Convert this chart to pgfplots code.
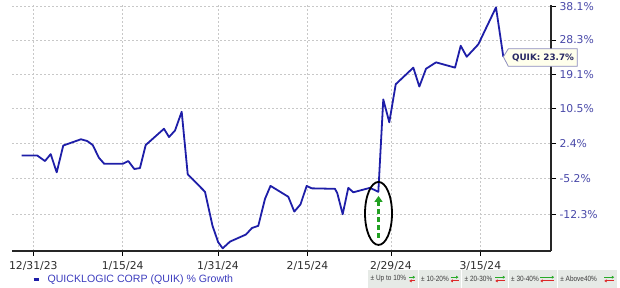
\documentclass[border=0pt]{standalone}
\usepackage{pgfplots}
\pgfplotsset{compat=1.18}
\usepackage{fontspec}
\setmainfont{DejaVu Sans}
\newfontfamily\lib{Liberation Sans}
\newfontfamily\libn[FakeStretch=0.85]{Liberation Sans}
\usetikzlibrary{arrows.meta}
\definecolor{lineblue}{RGB}{30,30,168}
\definecolor{ticklbl}{RGB}{72,72,168}
\definecolor{legendblue}{RGB}{60,60,190}
\definecolor{datecol}{RGB}{45,45,45}
\definecolor{gridgray}{RGB}{200,200,200}
\definecolor{boxfill}{RGB}{255,255,236}
\definecolor{boxdraw}{RGB}{140,140,190}
\definecolor{boxtext}{RGB}{40,40,100}
\definecolor{arrowgreen}{RGB}{34,160,34}
\definecolor{legbg}{RGB}{230,234,230}
\definecolor{leggray}{RGB}{60,60,60}
\definecolor{iconred}{RGB}{220,40,40}
\definecolor{icongreen}{RGB}{40,170,40}
\begin{document}
\begin{tikzpicture}
\begin{axis}[
  scale only axis, width=539pt, height=246pt,
  at={(0pt,0pt)}, anchor=south west,
  xmin=-3.57, xmax=86.86,
  ymode=log, ymin=80.93, ymax=138.53,
  axis x line*=bottom, axis y line*=right,
  axis line style={line width=1.6pt, color=black!85},
  xtick={0,15,31,46,60,75},
  xticklabels={12/31/23,1/15/24,1/31/24,2/15/24,2/29/24,3/15/24},
  ytick={87.7,94.8,102.4,110.5,119.1,128.3,138.1},
  yticklabels={-12.3\%,-5.2\%,2.4\%,10.5\%,19.1\%,28.3\%,38.1\%},
  yminorticks=false, xminorticks=false,
  tick align=outside, major tick length=5pt,
  tick style={black, line width=0.8pt},
  grid=major,
  major grid style={gridgray, dash pattern=on 2pt off 2pt, line width=0.5pt},
  x tick label style={font=\fontsize{10.8}{12}\selectfont, text=datecol, yshift=-2pt},
  y tick label style={font=\fontsize{10.8}{12}\selectfont, text=ticklbl},
  clip mode=individual,
  legend style={at={(rel axis cs:0.0371,-0.115)}, anchor=west, draw=none, fill=none,
    inner sep=0pt, nodes={inner sep=0pt},
    font=\lib\fontsize{10.6}{12}\selectfont, text=legendblue},
  legend image code/.code={\draw[#1, line width=3pt, line cap=butt] (0pt,0pt) -- (5pt,0pt); \path (0pt,-2pt) (13pt,2pt);},
]
\addplot[lineblue, line width=1.8pt, line join=round] coordinates {
(-1.95,99.7) (0.67,99.7) (1.96,98.5) (2.92,100.0) (3.93,96.1) (5.03,101.9)
(8.00,103.3) (9.06,102.9) (9.97,102.0) (11.02,99.2) (11.91,97.9) (15.00,97.9)
(15.94,98.5) (16.95,96.8) (17.90,97.0) (18.86,102.0) (21.93,105.7) (22.77,103.8)
(23.78,105.3) (24.90,109.7) (25.91,95.7) (28.81,92.1) (30.07,85.5) (31.02,82.5)
(31.78,81.4) (33.00,82.6) (35.69,83.9) (36.69,85.1) (37.75,85.5) (38.88,90.7)
(39.80,93.3) (42.79,91.1) (43.79,88.2) (44.83,89.6) (45.87,93.3) (46.71,92.8)
(50.62,92.7) (51.01,91.8) (51.91,87.7) (52.85,92.9) (53.69,92.0) (56.49,92.9)
(57.89,92.1) (58.72,112.7) (59.73,107.2) (60.81,116.5) (63.76,120.8) (64.77,115.9)
(65.89,120.5) (67.57,122.2) (70.76,120.8) (71.71,126.7) (72.72,123.7) (74.66,127.1)
(77.63,137.8) (78.86,123.7)
};
\addlegendentry{QUICKLOGIC CORP (QUIK) \% Growth}
% annotation ellipse and arrow
\draw[black, line width=1.8pt] (axis cs:57.92,87.85) ellipse [x radius=13.5pt, y radius=31.5pt];
\draw[arrowgreen, line width=2.5pt, dash pattern=on 5pt off 3pt, -{Triangle[length=6pt,width=8pt]}]
  ([yshift=-24.5pt]axis cs:57.92,87.85) -- ([yshift=17.5pt]axis cs:57.92,87.85);
% value callout
\draw[boxdraw, fill=boxfill, line width=0.8pt]
  ([xshift=0pt]axis cs:78.86,123.7) -- ([xshift=5pt,yshift=8pt]axis cs:78.86,123.7)
  -- ([xshift=74pt,yshift=8pt]axis cs:78.86,123.7) -- ([xshift=74pt,yshift=-9.5pt]axis cs:78.86,123.7)
  -- ([xshift=5pt,yshift=-9.5pt]axis cs:78.86,123.7) -- cycle;
\node[text=boxtext, font=\bfseries\fontsize{8.8}{10}\selectfont, inner sep=0pt]
  at ([xshift=39.7pt,yshift=-1pt]axis cs:78.86,123.7) {QUIK: 23.7\%};
\end{axis}
% bottom-right colour key
\foreach \a/\b/\t/\l in {356/405.7/{Up to 10\%}/6, 406.5/449/{10-20\%}/8, 450/495.7/{20-30\%}/10, 496.5/544.7/{30-40\%}/14, 545.7/604.7/{Above40\%}/10}{
  \fill[legbg] (\a pt,-37pt) rectangle (\b pt,-18.7pt);
  \node[anchor=west, inner sep=0pt, text=leggray, font=\libn\fontsize{7.6}{8}\selectfont] at (\a pt+2.5pt,-28pt) {± \t};
  \draw[icongreen, line width=1pt, -{Latex[length=2.4pt,width=3.4pt]}] (\b pt-2.5pt-\l pt,-26.2pt) -- (\b pt-2.5pt,-26.2pt);
  \draw[iconred, line width=1pt, -{Latex[length=2.4pt,width=3.4pt]}] (\b pt-2.5pt,-29.9pt) -- (\b pt-2.5pt-\l pt,-29.9pt);
}
\pgfresetboundingbox
\path[use as bounding box] (-12pt,-37pt) rectangle (608pt,251pt);
\end{tikzpicture}
\end{document}
